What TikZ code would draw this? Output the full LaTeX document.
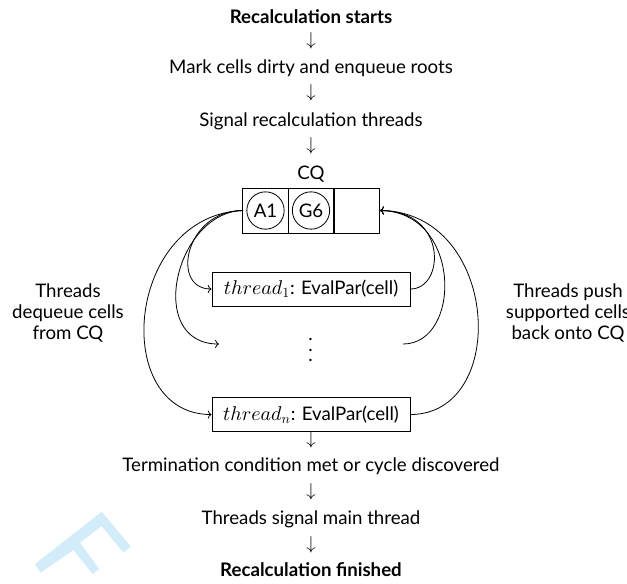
\documentclass[tikz,border=0pt]{standalone}
\usepackage{fontspec}
\setmainfont{Lato}
\DeclareFontShape{OML}{cmm}{m}{it}{<->cmmi10}{}
\DeclareFontShape{OMS}{cmsy}{m}{n}{<->cmsy10}{}
\DeclareFontShape{OT1}{cmr}{m}{n}{<->cmr10}{}
\usetikzlibrary{arrows.meta}
\definecolor{wm}{RGB}{210,236,250}
\newcommand{\thr}[1]{{\fontsize{15}{18}\selectfont$thread_{#1}$}}
\begin{document}
\begin{tikzpicture}[x=0.75pt,y=-0.75pt,
  every node/.style={font=\fontsize{14}{16.1}\selectfont},
  lbl/.style={anchor=base,inner sep=0pt},
  darr/.style={inner sep=0pt},
  thbox/.style={draw,line width=0.6pt,minimum width=148.5pt,minimum height=25.5pt,inner sep=0pt},
  qcell/.style={draw,line width=0.6pt,minimum width=34.1pt,minimum height=33.75pt,inner sep=0pt},
  qitem/.style={draw,circle,line width=0.6pt,minimum size=28pt,inner sep=0pt},
  side/.style={align=center,inner sep=0pt},
  every path/.style={line width=0.6pt}]
\useasboundingbox (0,0) rectangle (627,583);
% watermark
\fill[wm] (35,564) -- (101.7,511.7) -- (131,546.7) -- (123.3,552.7) -- (101.7,526) -- (80,542.7) -- (99,569) -- (92.7,574) -- (73.3,550) -- (40.7,572.7) -- cycle;
% main column
\node[lbl] (start) at (311,23) {\bfseries Recalculation starts};
\node[darr] (a1) at (311,41) {$\downarrow$};
\node[lbl] (mark) at (311,73) {Mark cells dirty and enqueue roots};
\node[darr] (a2) at (311,93) {$\downarrow$};
\node[lbl] (sig) at (311,126) {Signal recalculation threads};
\node[darr] (a3) at (311,146) {$\downarrow$};
\node[lbl] (cq) at (311,179) {CQ};
% queue
\node[qcell] (c1) at (265.5,210.5) {};
\node[qcell] (c2) at (311,210.5) {};
\node[qcell] (c3) at (357,210.5) {};
\node[qitem] (iA) at (265.5,210.5) {A1};
\node[qitem] (iG) at (311,210.5) {G6};
\coordinate (qw) at (243,210.5);
\coordinate (qe) at (380,210.5);
% threads
\node[thbox] (t1) at (311,289) {\thr{1}: EvalPar(cell)};
\node[inner sep=0pt] (dots) at (310.5,350) {\vbox{\baselineskip=7.9pt\lineskiplimit=-10pt\hbox{.}\hbox{.}\hbox{.}}};
\node[thbox] (tn) at (311,414.5) {\thr{n}: EvalPar(cell)};
\coordinate (dl) at (219,344);
\coordinate (dr) at (403,344);
% bottom column
\node[darr] (a4) at (311,440) {$\downarrow$};
\node[lbl] (term) at (311,471) {Termination condition met or cycle discovered};
\node[darr] (a5) at (311,491.5) {$\downarrow$};
\node[lbl] (sigm) at (311,524) {Threads signal main thread};
\node[darr] (a6) at (311,544.5) {$\downarrow$};
\node[lbl] (fin) at (311,576) {\bfseries Recalculation finished};
% side texts
\node[side] (lt) at (68,313) {Threads\\dequeue cells\\from CQ};
\node[side] (rt) at (568,313) {Threads push\\supported cells\\back onto CQ};
% left curves
\draw[->] (qw) .. controls (185,210.5) and (170,289) .. (t1.west);
\draw[->] (qw) .. controls (175,212) and (145,344) .. (dl);
\draw[->] (qw) .. controls (125,215) and (110,414.5) .. (tn.west);
% right curves
\draw[->] (t1.east) .. controls (445,289) and (448,210.5) .. (qe);
\draw[->] (dr) .. controls (462,344) and (462,212) .. (qe);
\draw[->] (tn.east) .. controls (510,414.5) and (500,212) .. (qe);
\end{tikzpicture}
\end{document}
